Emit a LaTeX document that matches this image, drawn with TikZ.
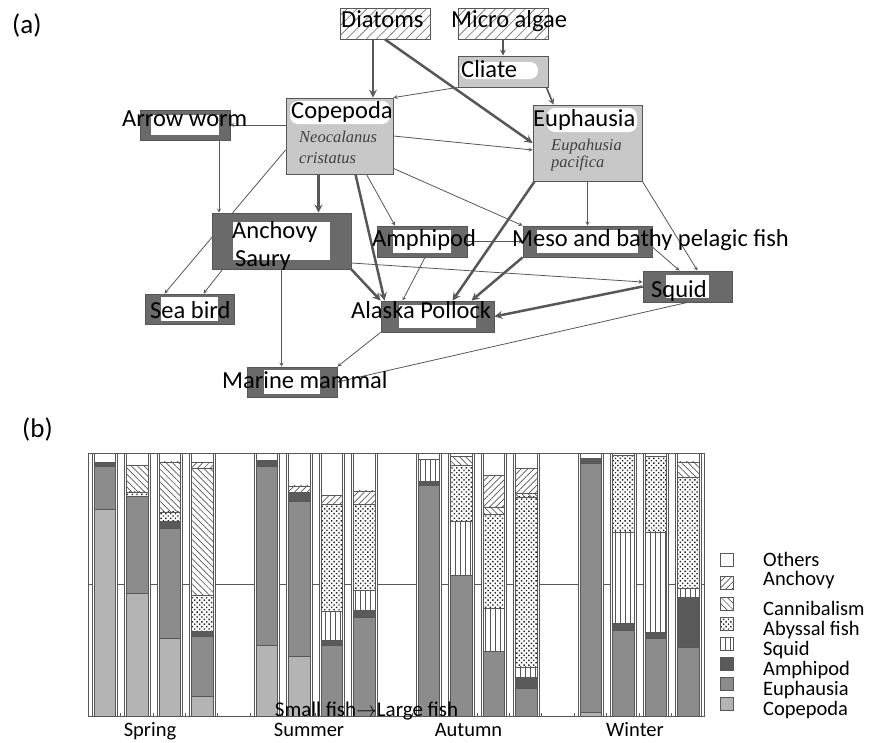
\documentclass[tikz,border=0pt]{standalone}
\usepackage{fontspec}
\setmainfont{Carlito}
\newfontfamily\spfont{Liberation Serif}
\usetikzlibrary{patterns.meta,backgrounds}

\definecolor{boxdark}{HTML}{6A6A6A}
\definecolor{boxlight}{HTML}{C8C8C8}
\definecolor{edgegray}{HTML}{575757}
\definecolor{copgray}{HTML}{B4B4B4}
\definecolor{eupgray}{HTML}{8C8C8C}
\definecolor{ampgray}{HTML}{5A5A5A}

\tikzset{
  hbox/.style={draw=edgegray,line width=.8pt,inner sep=0pt,
    pattern={Lines[angle=45,distance=7pt,line width=.8pt]},pattern color=gray},
  lbox/.style={draw=edgegray,fill=boxlight,line width=.8pt,inner sep=0pt},
  dbox/.style 2 args={draw=edgegray,fill=boxdark,line width=.8pt,inner sep=0pt,
    path picture={\fill[white] ([xshift=#1,yshift=-#2]path picture bounding box.north west)
      rectangle ([xshift=-#1,yshift=#2]path picture bounding box.south east);}},
  txt/.style={font=\fontsize{24.5}{28}\selectfont,inner sep=0pt,anchor=base west},
  sci/.style={font=\spfont\itshape\fontsize{16.5}{18}\selectfont,inner sep=0pt,
    anchor=base west,text=black!75},
  lgd/.style={font=\fontsize{20.5}{23}\selectfont,inner sep=0pt,anchor=base west},
  feed/.style={->,draw=edgegray,line width=.8pt},
  feedmid/.style={->,draw=edgegray,line width=1.6pt},
  feedbig/.style={->,draw=edgegray,line width=2.5pt},
  segline/.style={draw=edgegray,line width=.6pt},
  colframe/.style={draw=edgegray,fill=white,line width=.6pt},
  segoth/.style={segline,fill=white},
  segcop/.style={segline,fill=copgray},
  segeup/.style={segline,fill=eupgray},
  segamp/.style={segline,fill=ampgray},
  segsqd/.style={segline,pattern={Lines[angle=90,distance=5pt,line width=.6pt]},pattern color=edgegray},
  segaby/.style={segline,pattern={Dots[angle=45,distance=3.4pt,radius=1pt]},pattern color=black!85},
  segcan/.style={segline,pattern={Lines[angle=-45,distance=4.5pt,line width=.7pt]},pattern color=edgegray},
  seganc/.style={segline,pattern={Lines[angle=45,distance=4.5pt,line width=.7pt]},pattern color=edgegray}
}

\begin{document}
\begin{tikzpicture}[x=1pt,y=-1pt,>=stealth]
  \useasboundingbox (0,0) rectangle (870,742);

  % (a) food web
  \node[txt,font=\fontsize{27}{30}\selectfont] (pa) at (12,33) {(a)};
  \node[hbox,minimum width=90pt,minimum height=31pt] (diatoms) at (385,23.5) {};
  \node[hbox,minimum width=90pt,minimum height=31pt] (microalgae) at (503,23.5) {};
  \node[lbox,minimum width=90pt,minimum height=31pt] (cliate) at (503,71.5) {};
  \node[lbox,minimum width=107pt,minimum height=76pt] (copepoda) at (339.5,136) {};
  \node[lbox,minimum width=109pt,minimum height=76pt] (euphausia) at (587.5,143) {};
  \node[dbox={11pt}{5pt},minimum width=90pt,minimum height=30pt] (arrowworm) at (185,125) {};
  \node[dbox={21pt}{9pt},minimum width=139pt,minimum height=56pt] (anchovy) at (281.5,241) {};
  \node[dbox={16pt}{4pt},minimum width=90pt,minimum height=31pt] (amphipod) at (422,241.5) {};
  \node[dbox={14pt}{4pt},minimum width=129pt,minimum height=31pt] (meso) at (587.5,241.5) {};
  \node[dbox={23pt}{4pt},minimum width=89pt,minimum height=31pt] (squid) at (687.5,286.5) {};
  \node[dbox={16pt}{3pt},minimum width=89pt,minimum height=30pt] (seabird) at (189.5,309) {};
  \node[dbox={18pt}{4pt},minimum width=113pt,minimum height=31pt] (pollock) at (437.5,316.5) {};
  \node[dbox={17pt}{3pt},minimum width=90pt,minimum height=30pt] (mammal) at (292,382) {};

  \begin{scope}[on background layer]
    \draw[feedbig] ([xshift=-12pt]diatoms.south) -- ([xshift=-12pt]diatoms.south |- copepoda.north);
    \draw[feedbig] (diatoms.south) -- (euphausia.west);
    \draw[feedmid] (microalgae.south) -- (cliate.north);
    \draw[feed] (cliate.south west) -- (copepoda.north east);
    \draw[feedmid] ([xshift=-2pt]cliate.south east) -- ([xshift=-34pt]euphausia.north);
    \draw[feed] (copepoda.east) -- ([yshift=-7pt]euphausia.west);
    \draw[feed] (copepoda.west |- arrowworm.east) -- (arrowworm.east);
    \draw[feed] ([xshift=34pt]arrowworm.south) -- ([xshift=34pt]arrowworm.south |- anchovy.north);
    \draw[feed] ([yshift=-14pt]copepoda.west) -- ([xshift=-25pt]seabird.north);
    \draw[feed] ([xshift=11pt]anchovy.south west) -- ([xshift=14pt]seabird.north);
    \draw[feedbig] ([xshift=-21pt]copepoda.south) -- ([xshift=-21pt]copepoda.south |- anchovy.north);
    \draw[feed] ([xshift=27pt]copepoda.south) -- ([xshift=-27pt]amphipod.north);
    \draw[feedbig] ([xshift=16pt]copepoda.south) -- ([xshift=4pt]pollock.north west);
    \draw[feed] ([yshift=6pt]copepoda.south east) -- (meso.north west);
    \draw[feed] (euphausia.south) -- (meso.north);
    \draw[feed] (euphausia.south east) -- ([xshift=10pt]squid.north);
    \draw[feedbig] ([xshift=2pt]euphausia.south west) -- ([xshift=15pt]pollock.north);
    \draw[feedbig] (meso.south west) -- ([xshift=34pt]pollock.north);
    \draw[feed] ([yshift=-5.5pt]meso.east) -- ([xshift=-8pt]squid.north);
    \draw[feed] (amphipod.east) -- (meso.west);
    \draw[feed] ([xshift=3pt]amphipod.south) -- ([xshift=-35pt]pollock.north);
    \draw[feed] ([yshift=-22pt]anchovy.east) -- ([yshift=4.5pt]squid.west);
    \draw[feedbig] (anchovy.south east) -- (pollock.north west);
    \draw[feed] (anchovy.south) -- (anchovy.south |- mammal.north);
    \draw[feed] (pollock.south west) -- (mammal.north east);
    \draw[feedbig] (squid.west) -- (pollock.east);
    \draw[feed] (squid.south) -- (mammal.east);
  \end{scope}

  % white patches behind the names
  \fill[white,rounded corners=8pt] (460,62) rectangle (538,79);
  \fill[white,rounded corners=8pt] (290,101) rectangle (390,124);
  \fill[white,rounded corners=8pt] (547,108) rectangle (637,132);

  \node[txt] (diatomsT) at (341,27.5) {Diatoms};
  \node[txt] (microalgaeT) at (451,27.5) {Micro algae};
  \node[txt] (cliateT) at (461,77) {Cliate};
  \node[txt] (copepodaT) at (291,118) {Copepoda};
  \node[sci] (copepodaS) at (299,142) {Neocalanus};
  \node[sci] (copepodaS2) at (299,163) {cristatus};
  \node[txt] (euphausiaT) at (533,126) {Euphausia};
  \node[sci] (euphausiaS) at (551,150) {Eupahusia};
  \node[sci] (euphausiaS2) at (551,167) {pacifica};
  \node[txt] (arrowwormT) at (122,126) {Arrow worm};
  \node[txt] (anchovyT) at (232,238) {Anchovy};
  \node[txt] (sauryT) at (235,266) {Saury};
  \node[txt] (amphipodT) at (372,246) {Amphipod};
  \node[txt] (mesoT) at (512,246) {Meso and bathy pelagic fish};
  \node[txt] (squidT) at (651,297) {Squid};
  \node[txt] (seabirdT) at (150,318) {Sea bird};
  \node[txt] (pollockT) at (351,318) {Alaska Pollock};
  \node[txt] (mammalT) at (222,388) {Marine mammal};

  % (b) stomach contents
  \node[txt,font=\fontsize{27}{30}\selectfont] (pb) at (22,437) {(b)};
  \draw[edgegray,line width=.7pt] (88,584.5) -- (704,584.5);
  \foreach \k in {1,...,18}
    \draw[edgegray,line width=.6pt] (88+32.4*\k,716) -- (88+32.4*\k,712.5);
  \foreach \k/\segs in {
      0/{segcop/0/.785,segeup/.785/.949,segamp/.949/.965},
      1/{segcop/0/.468,segeup/.468/.837,segaby/.837/.852,segcan/.852/.953},
      2/{segcop/0/.297,segeup/.297/.713,segamp/.713/.741,segaby/.741/.776,segcan/.776/.966},
      3/{segcop/0/.076,segeup/.076/.304,segamp/.304/.323,segaby/.323/.459,segcan/.459/.943,seganc/.943/.963},
      5/{segcop/0/.270,segeup/.270/.949,segamp/.949/.972},
      6/{segcop/0/.228,segeup/.228/.816,segamp/.816/.852,seganc/.852/.875},
      7/{segeup/0/.270,segamp/.270/.289,segsqd/.289/.399,segaby/.399/.804,seganc/.804/.839},
      8/{segeup/0/.375,segamp/.375/.403,segsqd/.403/.478,segaby/.478/.804,seganc/.804/.856},
      10/{segeup/0/.877,segamp/.877/.894,segsqd/.894/.975},
      11/{segeup/0/.535,segsqd/.535/.741,segaby/.741/.953,segcan/.953/.987},
      12/{segeup/0/.247,segsqd/.247/.411,segaby/.411/.767,segcan/.767/.795,seganc/.795/.915},
      13/{segeup/0/.105,segamp/.105/.146,segsqd/.146/.187,segaby/.187/.833,segcan/.833/.846,seganc/.846/.941},
      15/{segcop/0/.016,segeup/.016/.962,segamp/.962/.978},
      16/{segeup/0/.324,segamp/.324/.352,segsqd/.352/.700,segaby/.700/.991},
      17/{segeup/0/.295,segamp/.295/.320,segsqd/.320/.700,segaby/.700/.987},
      18/{segeup/0/.263,segamp/.263/.453,segsqd/.453/.485,segaby/.485/.909,segcan/.909/.966}}{
    \draw[colframe] (92.3+32.4*\k,453) rectangle (117.6+32.4*\k,716);
    \foreach \s/\a/\b in \segs
      \draw[\s] (94.3+32.4*\k,716-263*\a) rectangle (115.6+32.4*\k,716-263*\b);
    \draw[segline] (94.3+32.4*\k,453) rectangle (115.6+32.4*\k,716);
  }
  \draw[edgegray,line width=.8pt] (88,453) rectangle (704,716);

  % legend
  \foreach \s/\ys/\yb/\t in {segoth/560/566/Others, seganc/582.5/585/Anchovy,
      segcan/603.5/615.5/Cannibalism, segaby/623.5/635/Abyssal fish, segsqd/643.5/655/Squid,
      segamp/663.5/675/Amphipod, segeup/683.5/695/Euphausia, segcop/703.5/715/Copepoda}{
    \draw[\s] (720,\ys-6.5) rectangle (733,\ys+6.5);
    \node[lgd] (key\s) at (763,\yb) {\t};
  }

  \node[lgd,anchor=base] (spring) at (150,736) {Spring};
  \node[lgd,anchor=base] (summer) at (309,736) {Summer};
  \node[lgd,anchor=base] (autumn) at (468.5,736) {Autumn};
  \node[lgd,anchor=base] (winter) at (635,736) {Winter};
  \node[lgd,anchor=base,font=\fontsize{21}{24}\selectfont] (sizeT) at (366.5,716)
    {Small fish$\rightarrow$Large fish};
\end{tikzpicture}
\end{document}
